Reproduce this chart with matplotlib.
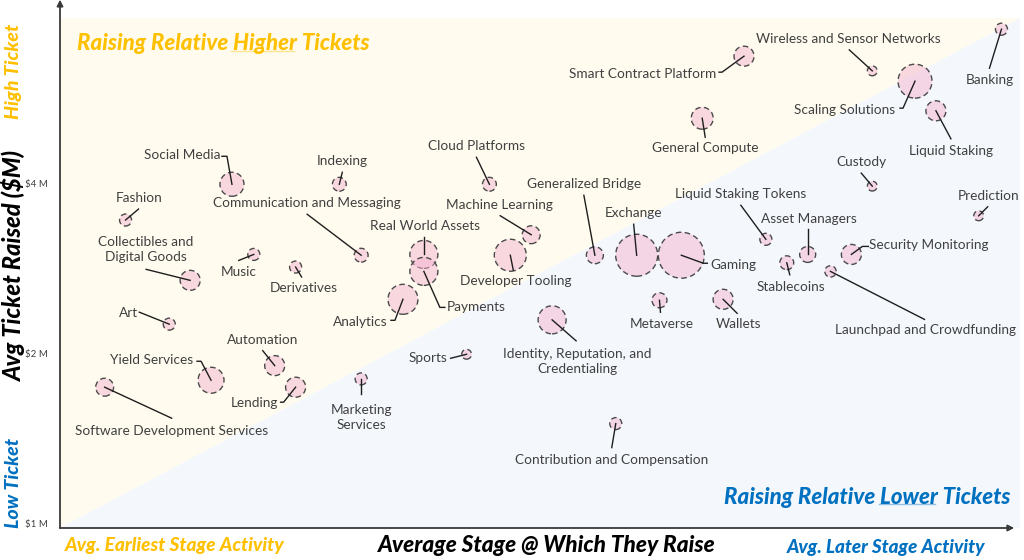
import matplotlib
matplotlib.use("Agg")
import matplotlib.pyplot as plt
import numpy as np
from matplotlib.lines import Line2D
from matplotlib.transforms import IdentityTransform

plt.rcParams['font.family'] = ['Lato', 'DejaVu Sans']

# ---- data: sector, average stage index, avg ticket ($M), number of raises
sectors = ['Fashion', 'Social Media', 'Indexing', 'Cloud Platforms',
           'Collectibles and\nDigital Goods', 'Music', 'Derivatives',
           'Communication and Messaging', 'Real World Assets', 'Payments',
           'Machine Learning', 'Developer Tooling', 'Analytics',
           'Generalized Bridge', 'Exchange', 'Gaming', 'Liquid Staking Tokens',
           'Asset Managers', 'Security Monitoring', 'Stablecoins',
           'Launchpad and Crowdfunding', 'Metaverse', 'Wallets',
           'Identity, Reputation, and\nCredentialing',
           'Contribution and Compensation', 'Sports', 'Marketing\nServices',
           'Lending', 'Automation', 'Yield Services', 'Art',
           'Software Development Services', 'Smart Contract Platform',
           'Wireless and Sensor Networks', 'Banking', 'Scaling Solutions',
           'General Compute', 'Liquid Staking', 'Custody', 'Prediction']
avg_stage = [0.69, 1.81, 2.94, 4.52, 1.37, 2.04, 2.48, 3.17, 3.83, 3.83,
             4.96, 4.74, 3.61, 5.63, 6.07, 6.54, 7.43, 7.87, 8.33, 7.65,
             8.11, 6.31, 6.98, 5.18, 5.85, 4.28, 3.17, 2.48, 2.26, 1.59,
             1.15, 0.47, 7.20, 8.55, 9.91, 9.00, 6.76, 9.22, 8.55, 9.67]
avg_ticket_m = [3.44, 3.98, 3.98, 3.98, 2.69, 2.99, 2.84, 2.98, 2.99, 2.79,
                3.24, 2.98, 2.49, 2.98, 2.98, 2.98, 3.18, 2.99, 2.99, 2.89,
                2.79, 2.48, 2.49, 2.29, 1.50, 1.99, 1.80, 1.74, 1.90, 1.79,
                2.25, 1.74, 6.71, 6.32, 7.49, 6.06, 5.21, 5.37, 3.95, 3.50]
n_raises = [9, 36, 12, 12, 25, 9, 9, 12, 49, 49,
            20, 64, 56, 18, 110, 132, 9, 16, 25, 12,
            8, 14, 25, 49, 9, 6, 9, 25, 25, 42,
            9, 20, 25, 6, 9, 72, 30, 25, 6, 6]

# ---- label layout (pixel offsets from bubble, y downwards):
# text centre, leader end, small horizontal hook
label_off = [(14, -22), (-50, -29), (3, -23), (-13, -38), (-44, -31), (-15, 18),
             (8, 21), (-54, -52), (1, -28), (52, 36), (-32, -30), (5, 26),
             (-43, 23), (-11, -71), (-3, -42), (52, 10), (-25, -45), (1, -35),
             (77, -9), (4, 24), (95, 59), (2, 24), (15, 25), (25, 42),
             (-4, 36), (-39, 4), (0, 39), (-41, 16), (-12, -26), (-59, -20),
             (-41, -11), (67, 44), (-101, 18), (-24, -32), (-12, 51), (-70, 29),
             (3, 30), (15, 40), (-11, -24), (10, -20)]
lead_off = [(13, -11), (-5, -28), (3, -12), (-13, -27), (-44, -11), (-15, 6),
            (6, 10), (-54, -41), (0, -17), (16, 36), (-31, -19), (3, 15),
            (-8, 21), (-11, -60), (-3, -31), (22, 8), (-25, -34), (0, -25),
            (11, -8), (3, 12), (94, 48), (1, 12), (14, 14), (24, 21),
            (-4, 24), (-16, 4), (0, 15), (-12, 15), (-12, -15), (-10, -19),
            (-30, -12), (67, 31), (-22, 16), (-23, -21), (-12, 39), (-12, 27),
            (3, 19), (15, 28), (-11, -13), (9, -9)]
hooks = {'Social Media': -5, 'Payments': 5, 'Analytics': -4, 'Gaming': 4,
         'Security Monitoring': 6, 'Lending': -3, 'Yield Services': -4,
         'Smart Contract Platform': -3, 'Scaling Solutions': -3}

W, H = 1024, 560
fig = plt.figure(figsize=(W / 100, H / 100), dpi=100)
ax = fig.add_axes([60 / W, 1 - 528 / H, 960 / W, 510 / H])
ax.set_facecolor('none')
ax.set_xlim(0, 10.105)
ax.set_yscale('log', base=2)
ax.set_ylim(0.98, 7.84)
for s in ax.spines.values():
    s.set_visible(False)
ax.set_xticks([])
ax.set_yticks([1, 2, 4])
ax.set_yticklabels(['$1 M', '$2 M', '$4 M'])
ax.yaxis.set_minor_locator(matplotlib.ticker.NullLocator())
ax.tick_params(axis='y', length=0, pad=9, labelsize=7, labelcolor='#404040')

# background triangles
ax.fill([0, 0, 1], [0, 1, 1], transform=ax.transAxes, color='#FFFCEF', zorder=0, lw=0)
ax.fill([0, 1, 1], [0, 0, 1], transform=ax.transAxes, color='#F4F8FC', zorder=0, lw=0)

# axis arrows
arrow = dict(arrowstyle='-|>', color='#3a3a3a', lw=1.3, mutation_scale=9, shrinkA=0, shrinkB=0)
ax.annotate('', xy=(0, 1.036), xytext=(0, 0), xycoords='axes fraction', arrowprops=arrow, annotation_clip=False)
ax.annotate('', xy=(0.994, 0), xytext=(0, 0), xycoords='axes fraction', arrowprops=arrow, annotation_clip=False)

# bubbles
sizes = np.array(n_raises) * 8.3
ax.scatter(avg_stage, avg_ticket_m, s=sizes, facecolors=(0.96, 0.70, 0.82, 0.5),
           edgecolors='#4a4a4a', linewidths=1.0, linestyle=(0, (4, 2.5)), zorder=3)

# labels and leader lines
for name, x, y, (tx, ty), (lx, ly) in zip(sectors, avg_stage, avg_ticket_m, label_off, lead_off):
    ax.annotate(name, xy=(x, y), xytext=(tx, -ty), textcoords='offset pixels',
                ha='center', va='center', fontsize=9.8, color='#404040',
                linespacing=1.3, zorder=5)
    cx, cy = ax.transData.transform((x, y))
    xs = [cx, cx + lx]
    ys = [cy, cy - ly]
    if name in hooks:
        xs.append(cx + lx + hooks[name])
        ys.append(cy - ly)
    fig.add_artist(Line2D(xs, ys, transform=IdentityTransform(), color='#1e1e1e', lw=1.0, zorder=6))

gold = '#FFC000'
blue = '#0070C0'
bi = dict(fontweight='black', fontstyle='italic')

t_hi = fig.text(77 / W, 1 - 44 / H, 'Raising Relative Higher Tickets', color=gold,
                fontsize=16, ha='left', va='center', **bi)
t_lo = fig.text(1011 / W, 1 - 497 / H, 'Raising Relative Lower Tickets', color=blue,
                fontsize=16, ha='right', va='center', **bi)
fig.text(14 / W, 1 - 71 / H, 'High Ticket', color=gold, fontsize=14, rotation=90,
         ha='center', va='center', **bi)
fig.text(14 / W, 1 - 266 / H, 'Avg Ticket Raised ($M)', color='black', fontsize=17, rotation=90,
         ha='center', va='center', **bi)
fig.text(14 / W, 1 - 483 / H, 'Low Ticket', color=blue, fontsize=14, rotation=90,
         ha='center', va='center', **bi)
fig.text(65 / W, 1 - 546 / H, 'Avg. Earliest Stage Activity', color=gold, fontsize=13.8,
         ha='left', va='center', **bi)
fig.text(547 / W, 1 - 545 / H, 'Average Stage @ Which They Raise', color='black', fontsize=16.3,
         ha='center', va='center', **bi)
fig.text(985 / W, 1 - 547 / H, 'Avg. Later Stage Activity', color=blue, fontsize=13.6,
         ha='right', va='center', **bi)

# underline one word inside the two corner titles
fig.canvas.draw()
renderer = fig.canvas.get_renderer()


def text_width(s, ref):
    t = fig.text(0, 0, s, fontsize=ref.get_fontsize(), **bi)
    w = t.get_window_extent(renderer).width
    t.remove()
    return w


def underline(t, before, word, color):
    bb = t.get_window_extent(renderer)
    x1 = bb.x0 + text_width(before + word, t)
    x0 = x1 - text_width(word, t)
    y = bb.y0 + 4
    fig.add_artist(Line2D([x0 - 2, x1 - 3], [y, y], transform=IdentityTransform(), color=color, lw=1.0, alpha=0.4))


underline(t_hi, 'Raising Relative ', 'Higher', gold)
underline(t_lo, 'Raising Relative ', 'Lower', blue)

fig.savefig('out.png', dpi=100)
